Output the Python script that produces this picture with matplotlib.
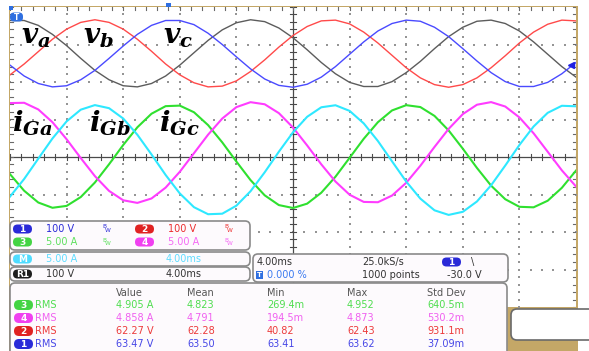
import matplotlib
matplotlib.use('Agg')
import matplotlib.pyplot as plt
from matplotlib.patches import FancyBboxPatch, Rectangle
import numpy as np

plt.rcParams['mathtext.fontset'] = 'custom'
plt.rcParams['mathtext.it'] = 'DejaVu Serif:italic:bold'
plt.rcParams['mathtext.rm'] = 'DejaVu Serif:bold'
plt.rcParams['mathtext.bf'] = 'DejaVu Serif:bold'

# ---------------- data ----------------
time_ms = np.arange(0, 41, 1.0)          # 4 ms/div, 10 divisions

# grid voltages (V), 100 V/div
v_a = [88, 88, 75, 51, 21, -13, -45, -70, -86, -89, -80, -60, -31, 2, 35, 63, 82, 90, 85, 68, 42,
       10, -24, -54, -77, -88, -88, -75, -51, -21, 13, 45, 70, 86, 89, 80, 60, 31, -2, -35, -63]
v_b = [-57, -28, 5, 38, 65, 83, 90, 83, 65, 38, 6, -28, -57, -78, -89, -87, -73, -48, -17, 17, 48,
       72, 87, 89, 79, 57, 28, -5, -38, -65, -83, -90, -83, -65, -38, -6, 28, 57, 78, 89, 87]
v_c = [-31, -60, -80, -89, -86, -70, -45, -13, 20, 51, 75, 88, 88, 77, 54, 24, -9, -41, -68, -85, -90,
       -82, -63, -35, -2, 31, 60, 80, 89, 86, 70, 45, 13, -20, -51, -75, -88, -88, -77, -54, -24]

# grid currents (A), 5 A/div
i_Ga = [7.19, 7.23, 6.34, 4.64, 2.37, -0.14, -2.55, -4.52, -5.77, -6.12, -5.53, -4.08, -1.97, 0.50,
        2.98, 5.13, 6.65, 7.31, 7.03, 5.85, 3.93, 1.54, -0.98, -3.27, -5.03, -5.99, -6.03, -5.14,
        -3.44, -1.17, 1.34, 3.75, 5.72, 6.97, 7.32, 6.73, 5.28, 3.17, 0.70, -1.78, -3.93]
i_Gb = [-5.28, -2.93, -0.22, 2.47, 4.75, 6.31, 6.92, 6.51, 5.13, 2.97, 0.34, -2.40, -4.86, -6.69,
        -7.63, -7.56, -6.49, -4.56, -2.04, 0.70, 3.29, 5.36, 6.63, 6.90, 6.15, 4.48, 2.13, -0.58,
        -3.27, -5.55, -7.11, -7.72, -7.31, -5.93, -3.77, -1.14, 1.60, 4.06, 5.89, 6.83, 6.76]
i_Gc = [-2.29, -4.50, -6.07, -6.77, -6.52, -5.34, -3.40, -0.97, 1.60, 3.96, 5.77, 6.78, 6.85, 5.97,
        4.25, 1.95, -0.61, -3.08, -5.11, -6.41, -6.80, -6.22, -4.76, -2.63, -0.11, 2.43, 4.64, 6.21,
        6.91, 6.66, 5.48, 3.54, 1.11, -1.46, -3.82, -5.63, -6.64, -6.71, -5.83, -4.11, -1.81]

volt_labels = ["v_a", "v_b", "v_c"]
curr_labels = ["i_{Ga}", "i_{Gb}", "i_{Gc}"]

# channel readout
ch_numbers = ["1", "2", "3", "4"]
ch_scales = ["100 V", "100 V", "5.00 A", "5.00 A"]
math_scale, math_time = "5.00 A", "4.00ms"
ref_scale, ref_time = "100 V", "4.00ms"
acq_time, acq_rate, acq_points = "4.00ms", "25.0kS/s", "1000 points"
trig_pos, trig_src, trig_level = "0.000 %", "1", "-30.0 V"

# measurement table
meas_header = ["Value", "Mean", "Min", "Max", "Std Dev"]
meas_channels = ["3", "4", "2", "1"]
meas_value = ["4.905 A", "4.858 A", "62.27 V", "63.47 V"]
meas_mean = ["4.823", "4.791", "62.28", "63.50"]
meas_min = ["269.4m", "194.5m", "40.82", "63.41"]
meas_max = ["4.952", "4.873", "62.43", "63.62"]
meas_std = ["640.5m", "530.2m", "931.1m", "37.09m"]

# ---------------- styles ----------------
W, H = 589, 351
TAN = '#c4a767'
BLUE, RED, GREEN, MAG, CYAN = '#2a2ad8', '#ec2c2c', '#46d846', '#f04cf0', '#48dcff'
VOLT_OFFSET_DIV = 2.76   # position of voltage zero on screen (div)

fig = plt.figure(figsize=(W / 100, H / 100), dpi=100)
fig.patch.set_facecolor('white')

# background axes in pixel coordinates
bg = fig.add_axes([0, 0, 1, 1], zorder=0)
bg.set_xlim(0, W); bg.set_ylim(H, 0); bg.axis('off')
bg.add_patch(Rectangle((8.5, 5.5), 578 - 8.5, H, fc=TAN, ec='none'))
bg.add_patch(Rectangle((10, 7), 566, 300, fc='white', ec='none'))

# scope axes in divisions
x0, x1, y0, y1 = 10, 576, 7, 307
ax = fig.add_axes([x0 / W, 1 - y1 / H, (x1 - x0) / W, (y1 - y0) / H], zorder=1)
ax.set_xlim(0, 40); ax.set_ylim(-4, 4); ax.axis('off')
ax.patch.set_alpha(0)

# dotted grid
dot_kw = dict(marker='s', s=1.1, linewidths=0, color='#959595', zorder=1)
yd = np.arange(-4, 4.001, 0.2)
for gx in range(4, 40, 4):
    if gx != 20:
        ax.scatter(np.full_like(yd, gx), yd, **dot_kw)
xd = np.arange(0, 40.001, 0.8)
for gy in range(-3, 4):
    if gy != 0:
        ax.scatter(xd, np.full_like(xd, gy), **dot_kw)

# centre cross with ticks
ax.axhline(0, color='#4a4a4a', lw=0.9, zorder=2)
ax.axvline(20, color='#4a4a4a', lw=0.9, zorder=2)
tx = 3 / 14.15   # 3 px in ms
ty = 3 / 37.5    # 3 px in div
for yy in yd:
    ax.plot([20 - tx, 20 + tx], [yy, yy], color='#4a4a4a', lw=0.8, zorder=2)
    ax.plot([0, tx], [yy, yy], color='#6a6a6a', lw=0.8, zorder=2)
    ax.plot([40 - tx, 40], [yy, yy], color='#6a6a6a', lw=0.8, zorder=2)
for xx in xd:
    ax.plot([xx, xx], [-ty, ty], color='#4a4a4a', lw=0.8, zorder=2)
    ax.plot([xx, xx], [4 - ty, 4], color='#6a6a6a', lw=0.8, zorder=2)

# traces
ax.plot(time_ms, VOLT_OFFSET_DIV + np.array(v_a) / 100, color='#5c5c5c', lw=1.0, zorder=3)
ax.plot(time_ms, VOLT_OFFSET_DIV + np.array(v_b) / 100, color='#ff4a4a', lw=1.0, zorder=3)
ax.plot(time_ms, VOLT_OFFSET_DIV + np.array(v_c) / 100, color='#4a4aff', lw=1.0, zorder=3)
ax.plot(time_ms, np.array(i_Gc) / 5, color='#2fe02f', lw=1.5, zorder=3)
ax.plot(time_ms, np.array(i_Ga) / 5, color='#ff3cff', lw=1.5, zorder=3)
ax.plot(time_ms, np.array(i_Gb) / 5, color='#2ee8ff', lw=1.5, zorder=3)

# overlay axes (pixel coordinates)
ov = fig.add_axes([0, 0, 1, 1], zorder=2)
ov.set_xlim(0, W); ov.set_ylim(H, 0); ov.axis('off')
ov.patch.set_alpha(0)

# waveform labels
for lab, x in zip(volt_labels, [21, 83, 163]):
    ov.text(x, 43, '$' + lab + '$', fontsize=20, color='black', ha='left', va='baseline', zorder=10)
for lab, x in zip(curr_labels, [12, 89, 159]):
    ov.text(x, 132, '$' + lab + '$', fontsize=20, color='black', ha='left', va='baseline', zorder=10)

# markers
ov.add_patch(FancyBboxPatch((10, 12.5), 13, 9, boxstyle='round,pad=0,rounding_size=4',
                            fc='#2f6fe0', ec='none', zorder=10))
ov.text(16.5, 17, 'T', color='white', fontsize=5.5, fontweight='bold', ha='center', va='center', zorder=11)
ov.add_patch(Rectangle((9, 6), 4, 4, fc='#2f6fe0', ec='none', zorder=10))
ov.add_patch(Rectangle((166, 3), 5, 4, fc='#2f6fe0', ec='none', zorder=10))
ov.plot([571], [65], marker='<', color='#2020e0', markersize=5, zorder=10)

PANEL_FC = '#fdfafd'
PANEL_EC = '#8a8a8a'


def panel(x, y, w, h, r=5):
    ov.add_patch(FancyBboxPatch((x, y), w, h, boxstyle=f'round,pad=0,rounding_size={r}',
                                fc=PANEL_FC, ec=PANEL_EC, lw=1.2, zorder=20))


def pill(x, y, color, label, w=19, h=9):
    ov.add_patch(FancyBboxPatch((x, y - h / 2), w, h, boxstyle=f'round,pad=0,rounding_size={h / 2}',
                                fc=color, ec='none', zorder=22))
    ov.text(x + w / 2, y + 0.3, label, color='white', fontsize=6.5, fontweight='bold',
            ha='center', va='center', zorder=23)


def txt(x, y, s, color, size=7):
    ov.text(x, y, s, color=color, fontsize=size, ha='left', va='center', zorder=23)


def bw_icon(x, y, color):
    ov.text(x, y - 2, 'B', color=color, fontsize=4.2, ha='left', va='center', zorder=23)
    ov.text(x + 3, y + 1.5, 'W', color=color, fontsize=4.2, ha='left', va='center', zorder=23)


# channel panel
panel(10, 221, 240, 29)
panel(10, 252, 240, 14)
panel(10, 267, 240, 14)
panel(253, 254, 255, 28)
panel(10, 283, 497, 100)
ov.add_patch(FancyBboxPatch((511, 309), 100, 31, boxstyle='round,pad=0,rounding_size=6',
                            fc='white', ec='#6a6a6a', lw=1.2, zorder=20))

ch_pill_colors = [BLUE, '#e02222', '#44d444', '#f040f0']
ch_text_colors = [BLUE, RED, '#5ee05e', '#f56af5']
ch_pos = [(13, 229), (135, 229), (13, 242), (135, 242)]
for num, sc, pc, tc, (px, py) in zip(ch_numbers, ch_scales, ch_pill_colors, ch_text_colors, ch_pos):
    pill(px, py, pc, num)
    txt(px + 33, py, sc, tc)
    bw_icon(px + 89, py, tc)

pill(13, 259, '#4fdcff', 'M')
txt(46, 259, math_scale, '#5fdcff')
txt(166, 259, math_time, '#5fdcff')
pill(13, 274, '#1e1e1e', 'R1')
txt(46, 274, ref_scale, '#333333')
txt(166, 274, ref_time, '#333333')

txt(257, 262, acq_time, '#333333')
txt(362, 262, acq_rate, '#333333')
pill(442, 262, BLUE, trig_src)
txt(471, 262, '\\', '#333333')
ov.add_patch(Rectangle((256, 271), 7, 8, fc='#2f6fe0', ec='none', zorder=22))
ov.text(259.5, 275.3, 'T', color='white', fontsize=5, fontweight='bold', ha='center', va='center', zorder=23)
txt(267, 275, trig_pos, '#3a7af0')
txt(362, 275, acq_points, '#333333')
txt(447, 275, trig_level, '#333333')

# measurement table
col_x = [116, 187, 267, 347, 427]
for cx, hname in zip(col_x, meas_header):
    txt(cx, 293, hname, '#555555')
row_y = [305, 318, 331, 344]
meas_pill = {'3': '#44d444', '4': '#f040f0', '2': '#e02222', '1': BLUE}
meas_col = {'3': '#4fdd4f', '4': '#f060f0', '2': '#ec3a3a', '1': '#4646e6'}
for ch, ry, a, b, c, d, e in zip(meas_channels, row_y, meas_value, meas_mean, meas_min, meas_max, meas_std):
    pill(14, ry, meas_pill[ch], ch, w=19, h=10)
    col = meas_col[ch]
    txt(35, ry, 'RMS', col)
    for cx, s in zip(col_x, [a, b, c, d, e]):
        txt(cx, ry, s, col)

fig.savefig('out.png', dpi=100)
